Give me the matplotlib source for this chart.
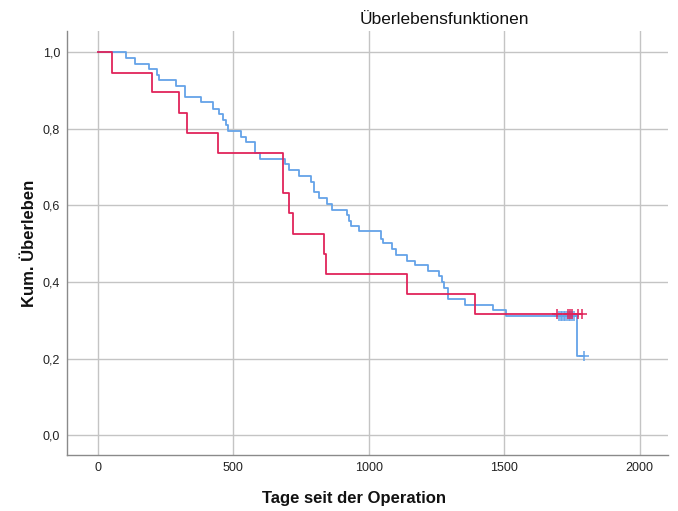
import numpy as np
import matplotlib
matplotlib.use('Agg')
from matplotlib import pyplot as plt

plt.rcParams['font.family'] = ['Liberation Sans', 'DejaVu Sans']

# ------------------ Daten ------------------
# Gruppe 1 (blau): Zeitpunkt der Stufe, Überlebensrate danach
blue_t = [0, 103, 136, 188, 220, 225, 287, 321, 380, 425, 447, 462, 472, 481,
          530, 548, 580, 598, 690, 706, 743, 788, 797, 817, 847, 863, 918, 927,
          936, 965, 1044, 1053, 1086, 1100, 1142, 1170, 1217, 1260, 1269, 1277,
          1291, 1355, 1460, 1505, 1767]
blue_s = [1.0, 0.985, 0.970, 0.956, 0.941, 0.928, 0.912, 0.882, 0.869, 0.853,
          0.838, 0.822, 0.809, 0.794, 0.779, 0.765, 0.736, 0.720, 0.708, 0.693,
          0.677, 0.662, 0.634, 0.619, 0.604, 0.589, 0.576, 0.560, 0.547, 0.532,
          0.513, 0.503, 0.486, 0.471, 0.456, 0.443, 0.428, 0.415, 0.399, 0.385,
          0.356, 0.341, 0.326, 0.311, 0.207]
blue_cens_t = [1701, 1708, 1714, 1720, 1726, 1732, 1738, 1744, 1750, 1756, 1794]
blue_cens_s = [0.311, 0.311, 0.311, 0.311, 0.311, 0.311, 0.311, 0.311, 0.311, 0.311, 0.207]

# Gruppe 2 (rot)
red_t = [0, 51, 200, 299, 329, 442, 682, 685, 705, 721, 834, 842, 1141, 1394]
red_s = [1.0, 0.947, 0.895, 0.842, 0.789, 0.737, 0.684, 0.632, 0.579, 0.526,
         0.474, 0.421, 0.368, 0.316]
red_cens_t = [1696, 1734, 1742, 1749, 1772, 1789]
red_cens_s = [0.316, 0.316, 0.316, 0.316, 0.316, 0.316]

x_ticks = [0, 500, 1000, 1500, 2000]
y_ticks = [0.0, 0.2, 0.4, 0.6, 0.8, 1.0]

blue_c = '#64a3e8'
red_c = '#e0245a'

# ------------------ Grafik ------------------
fig = plt.figure(figsize=(6.78, 5.11), dpi=100)
ax = fig.add_axes([0.0988, 0.1096, 0.8862, 0.8294])

for t, s, ct, cs, col, z in [(blue_t, blue_s, blue_cens_t, blue_cens_s, blue_c, 3),
                             (red_t, red_s, red_cens_t, red_cens_s, red_c, 4)]:
    xs = list(t) + [max(ct)]
    ys = list(s) + [s[-1]]
    ax.step(xs, ys, where='post', color=col, lw=1.3, zorder=z)
    ax.plot(ct, cs, ls='none', marker='+', ms=7, mew=1.1, color=col, zorder=z)

ax.set_xlim(-114, 2104)
ax.set_ylim(-0.052, 1.055)
ax.set_xticks(x_ticks)
ax.set_yticks(y_ticks)
ax.set_yticklabels([f'{v:.1f}'.replace('.', ',') for v in y_ticks])
ax.tick_params(length=0, labelsize=9, colors='#222222', pad=5)
ax.grid(True, color='#c4c4c4', lw=1)
ax.set_axisbelow(True)

for side in ['top', 'right']:
    ax.spines[side].set_visible(False)
for side in ['left', 'bottom']:
    ax.spines[side].set_color('#8a8a8a')
    ax.spines[side].set_linewidth(1)

ax.set_ylabel('Kum. Überleben', fontsize=12, fontweight='bold', color='#111111')
ax.yaxis.set_label_coords(-0.050, 0.5)
ax.set_xlabel('Tage seit der Operation', fontsize=12, fontweight='bold', color='#111111')
ax.xaxis.set_label_coords((354 - 67) / 601, -0.085)

fig.text(444 / 678, 1 - 19 / 511, 'Überlebensfunktionen', ha='center', va='center',
         fontsize=12.5, color='#111111')

plt.savefig('out.png', dpi=100)
